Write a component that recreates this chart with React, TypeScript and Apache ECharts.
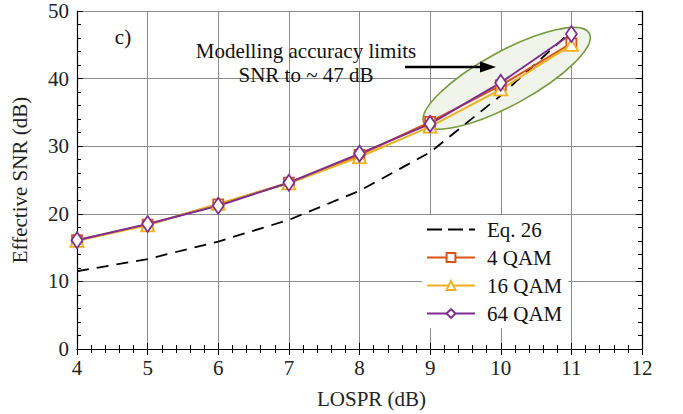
import React, { useEffect, useRef } from "react";
import * as echarts from "echarts";

// LOSPR sweep (dB) and effective SNR results (dB)
const losprDb = [4, 5, 6, 7, 8, 9, 10, 11];
const eq26Snr = [11.5, 13.3, 15.9, 19.1, 23.4, 29.1, 37.5, 47.0];
const qam4Snr = [16.1, 18.4, 21.4, 24.6, 28.7, 33.6, 39.0, 45.2];
const qam16Snr = [16.0, 18.3, 21.5, 24.5, 28.4, 32.9, 38.4, 45.0];
const qam64Snr = [16.1, 18.5, 21.2, 24.6, 28.9, 33.3, 39.4, 46.6];

const seriesNames = ["Eq. 26", "4 QAM", "16 QAM", "64 QAM"];
const annotationLines = ["Modelling accuracy limits", "SNR to ~ 47 dB"];
const panelTag = "c)";

const FONT = "Liberation Serif";
const C4 = "#d95319";
const C16 = "#edb120";
const C64 = "#7e2f8e";

// dashed legend key for the analytic curve
const DASH_ICON = "path://M0,0h15v2h-15zM21,0h15v2h-15zM42,0h6v2h-6z";

const pairs = (ys: number[]) => losprDb.map((x, i) => [x, ys[i]]);

export default function App() {
  const ref = useRef<HTMLDivElement>(null);

  useEffect(() => {
    const chart = echarts.init(ref.current!, undefined, { renderer: "svg" });

    const frameAxis = {
      axisLine: { show: true, lineStyle: { color: "#000", width: 1.2 } },
      axisTick: { show: true, inside: true, length: 6, lineStyle: { color: "#000", width: 1 } },
      minorTick: { show: true, splitNumber: 5, length: 4, lineStyle: { color: "#000", width: 1 } },
    };

    const markerSeries = (name: string, data: number[], color: string, symbol: string, size: any) => ({
      name,
      type: "line",
      data: pairs(data),
      symbol,
      symbolSize: size,
      showSymbol: true,
      lineStyle: { color, width: 2 },
      itemStyle: { color: "#fff", borderColor: color, borderWidth: 1.8 },
      emphasis: { disabled: true },
      z: 3,
    });

    chart.setOption({
      animation: false,
      textStyle: { fontFamily: FONT },
      grid: { left: 77, right: 41, top: 11, bottom: 59, containLabel: false },
      xAxis: [
        {
          type: "value",
          min: 4,
          max: 12,
          interval: 1,
          name: "LOSPR (dB)",
          nameLocation: "middle",
          nameGap: 39,
          nameTextStyle: { fontFamily: FONT, fontSize: 21, color: "#222", padding: [0, 0, 0, 24] },
          axisLabel: { fontFamily: FONT, fontSize: 21, color: "#222", margin: 8 },
          splitLine: { show: true, lineStyle: { color: "#8c8c8c", width: 1 } },
          ...frameAxis,
        },
        {
          type: "value",
          position: "top",
          min: 4,
          max: 12,
          interval: 1,
          axisLabel: { show: false },
          splitLine: { show: false },
          ...frameAxis,
        },
      ],
      yAxis: [
        {
          type: "value",
          min: 0,
          max: 50,
          interval: 10,
          name: "Effective SNR (dB)",
          nameLocation: "middle",
          nameGap: 47,
          nameTextStyle: { fontFamily: FONT, fontSize: 21, color: "#222" },
          axisLabel: { fontFamily: FONT, fontSize: 21, color: "#222", margin: 8 },
          splitLine: { show: true, lineStyle: { color: "#8c8c8c", width: 1 } },
          ...frameAxis,
        },
        {
          type: "value",
          position: "right",
          min: 0,
          max: 50,
          interval: 10,
          axisLabel: { show: false },
          splitLine: { show: false },
          ...frameAxis,
        },
      ],
      legend: {
        data: [{ name: seriesNames[0], icon: DASH_ICON }, seriesNames[1], seriesNames[2], seriesNames[3]],
        orient: "vertical",
        left: 422,
        top: 215,
        backgroundColor: "#fff",
        padding: [4, 6, 4, 4],
        itemWidth: 48,
        itemHeight: 11,
        itemGap: 7,
        symbolKeepAspect: true,
        textStyle: { fontFamily: FONT, fontSize: 21, color: "#111", lineHeight: 20, padding: [0, 0, 0, 7] },
      },
      series: [
        {
          name: seriesNames[0],
          type: "line",
          data: pairs(eq26Snr),
          symbol: "none",
          lineStyle: { color: "#000", width: 1.8, type: [12, 8] },
          itemStyle: { color: "#000" },
          emphasis: { disabled: true },
          z: 2,
        },
        markerSeries(seriesNames[1], qam4Snr, C4, "rect", 10),
        markerSeries(seriesNames[2], qam16Snr, C16, "triangle", [13, 12]),
        markerSeries(seriesNames[3], qam64Snr, C64, "diamond", [11, 16]),
      ],
      graphic: [
        {
          type: "ellipse",
          x: 506.7,
          y: 78.3,
          rotation: 0.5,
          shape: { cx: 0, cy: 0, rx: 94, ry: 26.8 },
          style: { fill: "#f1f4ea", stroke: "#779a3e", lineWidth: 1.6 },
          z: 1,
        },
        {
          type: "text",
          x: 123,
          y: 37,
          style: { text: panelTag, font: `21px "${FONT}"`, fill: "#111", textAlign: "center", textVerticalAlign: "middle" },
          z: 10,
        },
        {
          type: "text",
          x: 306,
          y: 51,
          style: { text: annotationLines[0], font: `21px "${FONT}"`, fill: "#111", textAlign: "center", textVerticalAlign: "middle" },
          z: 10,
        },
        {
          type: "text",
          x: 306,
          y: 75,
          style: { text: annotationLines[1], font: `21px "${FONT}"`, fill: "#111", textAlign: "center", textVerticalAlign: "middle" },
          z: 10,
        },
        {
          type: "line",
          shape: { x1: 405, y1: 67, x2: 483, y2: 67 },
          style: { stroke: "#000", lineWidth: 2.6 },
          z: 10,
        },
        {
          type: "polygon",
          shape: { points: [[496, 67], [480, 61.5], [480, 72.5]] },
          style: { fill: "#000" },
          z: 10,
        },
      ],
    });

    return () => chart.dispose();
  }, []);

  return (
    <div
      ref={ref}
      style={{ position: "fixed", left: 0, top: 0, width: 683, height: 414, background: "#fff" }}
    />
  );
}
